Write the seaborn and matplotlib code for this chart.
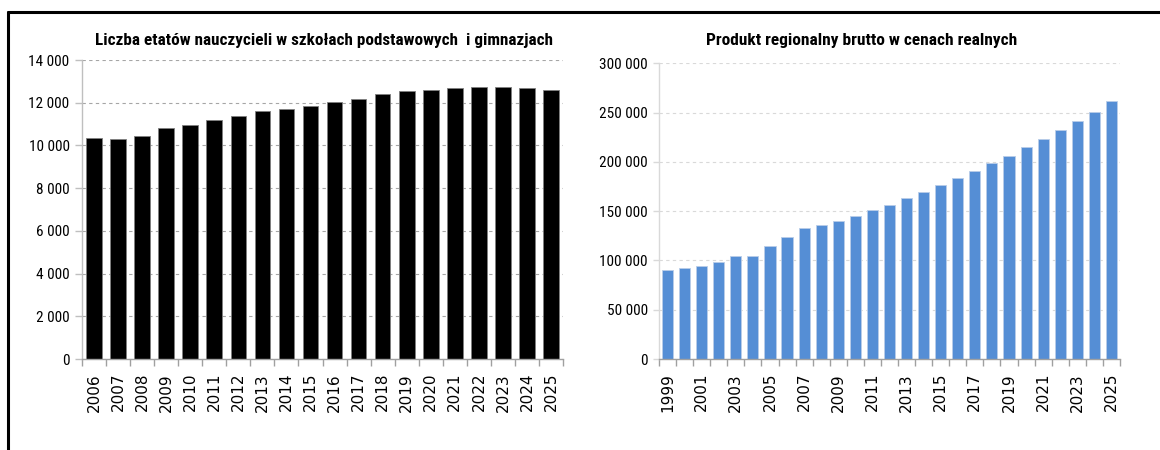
import numpy as np
import pandas as pd
import seaborn as sns
import matplotlib.pyplot as plt
from matplotlib import font_manager
from matplotlib.font_manager import FontProperties
from matplotlib.lines import Line2D
from matplotlib.ticker import FuncFormatter, MultipleLocator, FixedLocator

# data
years_left = [str(y) for y in range(2006, 2026)]
etaty = [10350, 10300, 10450, 10800, 10940, 11200, 11370, 11590, 11730, 11860,
         12040, 12170, 12400, 12530, 12580, 12670, 12720, 12720, 12670, 12580]

years_right = [str(y) for y in range(1999, 2026)]
pkb = [90000, 92500, 94600, 98300, 104000, 104700, 114200, 123300, 133100, 136100,
       139900, 144600, 150700, 156400, 162900, 169300, 176000, 183400, 190900, 198300,
       206400, 214900, 223000, 231800, 240900, 251000, 261200]

title_left = "Liczba etatów nauczycieli w szkołach podstawowych  i gimnazjach"
title_right = "Produkt regionalny brutto w cenach realnych"

sns.set_theme(style="white")

# pick a narrow font if one is there (the original uses Calibri)
installed = set(f.name for f in font_manager.fontManager.ttflist)
narrow = "Roboto"
for cand in ["Liberation Sans Narrow", "DejaVu Sans Condensed", "Roboto Condensed",
             "Open Sans Condensed", "Lato", "Roboto"]:
    if cand in installed:
        narrow = cand
        break
plt.rcParams['font.family'] = [narrow, 'DejaVu Sans']
plt.rcParams['text.color'] = 'black'
plt.rcParams['xtick.color'] = 'black'
plt.rcParams['ytick.color'] = 'black'

# the year labels are in a wide Verdana-like face
wide_path = None
for f in font_manager.fontManager.ttflist:
    if f.name == 'DejaVu Sans' and f.style == 'normal' and f.weight == 400 and f.stretch == 'normal':
        wide_path = f.fname
        break
if wide_path is None:
    wide_path = font_manager.findfont(FontProperties(family='DejaVu Sans'))
year_font = FontProperties(fname=wide_path, size=11)


def space_thousands(v, pos):
    return "{:,.0f}".format(v).replace(",", " ")


fig = plt.figure(figsize=(11.6, 4.5), dpi=100)
ax1 = fig.add_axes([0.0707, 0.2022, 0.4147, 0.6644])
ax2 = fig.add_axes([0.5681, 0.2022, 0.3974, 0.6573])

# left chart - black bars
df_left = pd.DataFrame({"Rok": years_left, "Etaty": etaty})
sns.barplot(data=df_left, x="Rok", y="Etaty", color="black", width=0.65,
            edgecolor="#7f7f7f", linewidth=0.6, saturation=1, ax=ax1)
ax1.set_ylim(0, 14000)
ax1.yaxis.set_major_locator(MultipleLocator(2000))
ax1.grid(axis='y', color="#a6a6a6", linestyle=(0, (3, 3)), linewidth=0.8)
ax1.set_axisbelow(True)
ax1.set_xlim(-0.5, len(years_left) - 0.5)

# right chart - blue bars
df_right = pd.DataFrame({"Rok": years_right, "PKB": pkb})
sns.barplot(data=df_right, x="Rok", y="PKB", color="#558ed5", width=0.65,
            edgecolor="#b9cde8", linewidth=0.6, saturation=1, ax=ax2)
ax2.set_ylim(0, 300000)
ax2.yaxis.set_major_locator(MultipleLocator(50000))
ax2.grid(axis='y', color="#d9d9d9", linestyle=(0, (3, 3)), linewidth=0.8)
ax2.set_axisbelow(True)
ax2.set_xlim(-0.5, len(years_right) - 0.5)

for ax, n, ycol in [(ax1, len(years_left), "#bfbfbf"), (ax2, len(years_right), "#d9d9d9")]:
    ax.set_xlabel("")
    ax.set_ylabel("")
    ax.yaxis.set_major_formatter(FuncFormatter(space_thousands))
    for s in ["top", "right"]:
        ax.spines[s].set_visible(False)
    ax.spines["left"].set_color(ycol)
    ax.spines["left"].set_linewidth(1.0)
    ax.spines["bottom"].set_color("#a0a0a0")
    ax.spines["bottom"].set_linewidth(1.0)
    # tick marks between categories, labels under the bars
    ax.xaxis.set_minor_locator(FixedLocator(np.arange(-0.5, n, 1.0)))
    ax.tick_params(axis='x', which='minor', bottom=True, length=5, width=1, color="#a0a0a0")
    ax.tick_params(axis='x', which='major', bottom=True, length=0, pad=10)
    ax.tick_params(axis='y', labelsize=11, pad=4)

ax1.set_xticks(range(len(years_left)), years_left, rotation=90)
ax2.set_xticks(range(0, len(years_right), 2), years_right[::2], rotation=90)
for ax in [ax1, ax2]:
    for lab in ax.get_xticklabels():
        lab.set_fontproperties(year_font)

ax1.tick_params(axis='y', left=True, length=5, width=1, color="#bfbfbf")
ax2.tick_params(axis='y', left=True, length=4, width=1, color="#d9d9d9")

fig.text(0.279, 0.911, title_left, ha='center', va='center',
         fontsize=12.3, fontweight='bold')
fig.text(0.743, 0.911, title_right, ha='center', va='center',
         fontsize=12.5, fontweight='bold')

# frame lines of the page
fig.add_artist(Line2D([0.0073, 1.0], [0.9733, 0.9733], color="black", linewidth=2.2))
fig.add_artist(Line2D([0.0073, 0.0073], [0.0, 0.9733], color="black", linewidth=2.2))

plt.savefig("out.png", dpi=100)
